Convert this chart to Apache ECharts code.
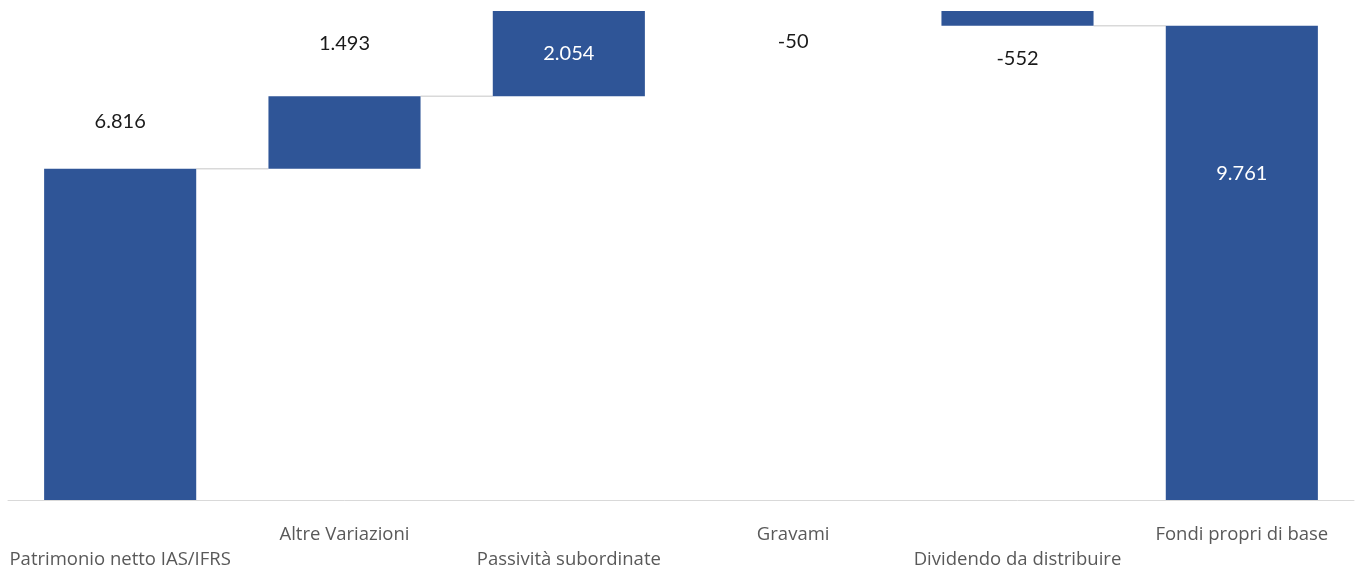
<!DOCTYPE html>
<html><head><meta charset="utf-8">
<script src="https://cdn.jsdelivr.net/npm/echarts@6/dist/echarts.min.js"></script>
<style>html,body{margin:0;padding:0;background:#fff}#c{width:1357px;height:570px}</style>
</head><body><div id="c"></div>
<script>
// ---- data ----
const categories = ['Patrimonio netto IAS/IFRS','Altre Variazioni','Passività subordinate','Gravami','Dividendo da distribuire','Fondi propri di base'];
const values = [6816, 1493, 2054, -50, -552, 9761];
const isTotal = [true, false, false, false, false, true];
const yMax = 10065;

// ---- styles ----
const labelLift = [378, 456, 446, 458, 441, 326];   // px above baseline
const labelInside = [false, false, true, false, false, true];
const BAR_RATIO = 0.678;

// ---- waterfall build ----
const base = [], height = [], level = [];
let run = 0;
values.forEach((v, i) => {
  if (isTotal[i]) { base.push(0); height.push(v); run = v; }
  else if (v >= 0) { base.push(run); height.push(v); run += v; }
  else { base.push(run + v); height.push(-v); run += v; }
  level.push(run);
});
const fmt = v => String(v).replace(/\B(?=(\d{3})+(?!\d))/g, '.');

const chart = echarts.init(document.getElementById('c'));
chart.setOption({
  animation: false,
  grid: { left: 8, right: 3, top: 11, bottom: 70, containLabel: false, outerBoundsMode: 'none' },
  xAxis: {
    type: 'category', data: categories,
    axisTick: { show: false },
    axisLine: { lineStyle: { color: '#d9d9d9', width: 1 } },
    axisLabel: {
      interval: 0, margin: 22, lineHeight: 25,
      color: '#595959', fontFamily: 'Open Sans', fontSize: 18.5,
      formatter: (v, i) => (i % 2 === 0 ? '\n' + v : v)
    }
  },
  yAxis: { type: 'value', min: 0, max: yMax, show: false, splitLine: { show: false } },
  series: [
    { type: 'bar', stack: 'w', data: base, barWidth: (BAR_RATIO * 100) + '%', itemStyle: { color: 'transparent' }, silent: true },
    { type: 'bar', stack: 'w', data: height, barWidth: (BAR_RATIO * 100) + '%', itemStyle: { color: '#2F5597' }, clip: true },
    {
      type: 'custom', silent: true, clip: false, z: 1,
      data: level.slice(0, level.length - 1).map((l, i) => [i, l]),
      renderItem: (params, api) => {
        const i = api.value(0);
        const y = api.coord([i, api.value(1)])[1];
        if (y < params.coordSys.y - 0.5) return null;
        const bw = api.size([1, 0])[0] * BAR_RATIO;
        const x1 = api.coord([i, 0])[0] + bw / 2;
        const x2 = api.coord([i + 1, 0])[0] - bw / 2;
        return { type: 'line', shape: { x1, y1: y, x2, y2: y }, style: { stroke: '#d9d9d9', lineWidth: 1.5 } };
      }
    },
    {
      type: 'custom', silent: true, clip: false, z: 10,
      data: values.map((v, i) => [i, v]),
      renderItem: (params, api) => {
        const i = api.value(0);
        const p = api.coord([i, 0]);
        return {
          type: 'text', x: p[0], y: p[1] - labelLift[i],
          style: {
            text: fmt(api.value(1)), fill: labelInside[i] ? '#ffffff' : '#1a1a1a',
            font: '20px Lato', align: 'center', verticalAlign: 'middle'
          }
        };
      }
    }
  ]
});
</script></body></html>
